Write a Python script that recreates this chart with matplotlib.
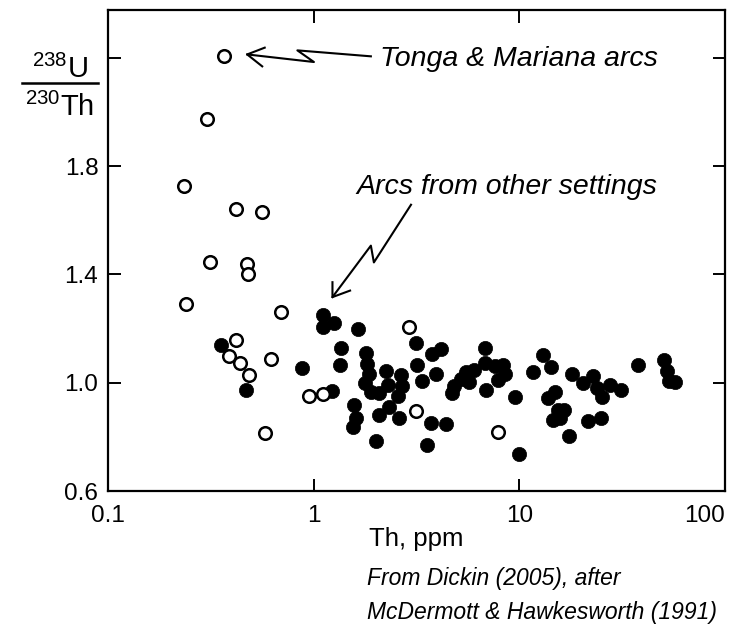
import matplotlib
matplotlib.use("Agg")
import matplotlib.pyplot as plt
from matplotlib.lines import Line2D

plt.rcParams['font.family'] = ['Liberation Sans', 'DejaVu Sans']
plt.rcParams['mathtext.fontset'] = 'custom'
plt.rcParams['mathtext.rm'] = 'Liberation Sans'
plt.rcParams['mathtext.it'] = 'Liberation Sans:italic'

# Tonga & Mariana arcs (open circles): Th ppm, 238U/230Th
open_th = [0.368, 0.303, 0.235, 0.421, 0.561, 0.312, 0.475, 0.477, 0.239, 0.696,
           0.421, 0.386, 0.440, 0.484, 0.622, 0.948, 1.115, 0.577, 2.917, 3.145, 7.855]
open_ratio = [2.208, 1.972, 1.726, 1.642, 1.631, 1.444, 1.438, 1.401, 1.290, 1.261,
              1.157, 1.099, 1.073, 1.030, 1.087, 0.949, 0.957, 0.814, 1.206, 0.894, 0.818]

# Arcs from other settings (filled circles)
fill_th = [0.355, 0.471, 0.874, 1.112, 1.252, 1.106, 1.224, 1.365, 1.344, 1.634,
           1.573, 1.603, 1.559, 1.794, 1.814, 1.855, 1.774, 1.897, 2.082, 2.245,
           2.288, 2.657, 2.687, 2.584, 2.330, 2.082, 2.607, 2.006, 3.155, 4.164,
           3.743, 3.162, 3.937, 3.364, 3.722, 4.405, 3.557, 6.826, 4.686, 4.820,
           5.214, 5.513, 6.034, 6.772, 7.578, 8.329, 8.545, 7.874, 6.902, 5.722,
           9.561, 9.945, 13.05, 14.25, 11.61, 17.94, 20.36, 22.88, 23.88, 25.34,
           27.57, 31.30, 14.87, 13.85, 15.45, 16.49, 14.60, 15.73, 21.63, 24.98,
           17.34, 37.93, 50.23, 52.14, 53.15, 57.23]
fill_ratio = [1.138, 0.973, 1.056, 1.250, 1.219, 1.206, 0.971, 1.128, 1.064, 1.197,
              0.918, 0.870, 0.835, 1.108, 1.068, 1.033, 0.997, 0.967, 0.961, 1.042,
              0.992, 1.028, 0.987, 0.949, 0.912, 0.879, 0.869, 0.784, 1.146, 1.126,
              1.105, 1.064, 1.031, 1.006, 0.851, 0.848, 0.771, 1.127, 0.961, 0.989,
              1.015, 1.039, 1.046, 1.071, 1.061, 1.065, 1.033, 1.010, 0.973, 1.004,
              0.947, 0.735, 1.103, 1.059, 1.039, 1.031, 1.000, 1.024, 0.981, 0.947,
              0.990, 0.973, 0.967, 0.943, 0.900, 0.900, 0.864, 0.869, 0.857, 0.869,
              0.804, 1.067, 1.082, 1.044, 1.007, 1.001]

y_ticks = [0.6, 1.0, 1.4, 1.8, 2.2]
y_labels = ['0.6', '1.0', '1.4', '1.8', '']
x_ticks = [0.1, 1, 10, 100]
x_labels = ['0.1', '1', '10', '100']

# arrow paths (data coords)
arrow1_x = [1.897, 0.833, 1.003, 0.475]
arrow1_y = [2.205, 2.227, 2.184, 2.212]
arrow1_head_x = [0.578, 0.475, 0.562]
arrow1_head_y = [2.237, 2.212, 2.168]
arrow2_x = [2.973, 1.962, 1.897, 1.234]
arrow2_y = [1.657, 1.444, 1.506, 1.316]
arrow2_head_x = [1.234, 1.234, 1.503]
arrow2_head_y = [1.371, 1.316, 1.340]

fig = plt.figure(figsize=(7.49, 6.38), dpi=100)
ax = fig.add_axes([0.1442, 0.2304, 0.8238, 0.7539])

ax.scatter(fill_th, fill_ratio, s=105, c='black', edgecolors='black', linewidths=0.5, zorder=3)
ax.scatter(open_th, open_ratio, s=82, facecolors='white', edgecolors='black', linewidths=1.8, zorder=4)

ax.set_xscale('log')
ax.set_xlim(0.1, 100)
ax.set_ylim(0.6, 2.376)
ax.set_xticks(x_ticks)
ax.set_xticklabels(x_labels)
ax.set_yticks(y_ticks)
ax.set_yticklabels(y_labels)
ax.minorticks_off()
ax.tick_params(direction='in', length=9, width=1.4, top=True, right=True,
               labelsize=17.5, pad=7)
ax.tick_params(axis='x', pad=10)
ax.get_xticklabels()[-1].set_horizontalalignment('right')
ax.get_xticklabels()[-1].set_x(100)
for sp in ax.spines.values():
    sp.set_linewidth(1.6)

ax.set_xlabel('Th, ppm', fontsize=18.5, labelpad=0)

# arrows and labels
ax.plot(arrow1_x, arrow1_y, color='black', lw=1.5, clip_on=False)
ax.plot(arrow1_head_x, arrow1_head_y, color='black', lw=1.5, clip_on=False)
ax.plot(arrow2_x, arrow2_y, color='black', lw=1.5, clip_on=False)
ax.plot(arrow2_head_x, arrow2_head_y, color='black', lw=1.5, clip_on=False)
ax.text(47.1, 2.196, 'Tonga & Mariana arcs', style='italic', fontsize=20.5,
        ha='right', va='center')
ax.text(47.1, 1.723, 'Arcs from other settings', style='italic', fontsize=20.5,
        ha='right', va='center')

# y label as a stacked fraction
fig.text(60 / 749, 1 - 78 / 638, r'$^{238}$U', fontsize=21, ha='center', va='baseline')
fig.text(60 / 749, 1 - 116 / 638, r'$^{230}$Th', fontsize=21, ha='center', va='baseline')
fig.add_artist(Line2D([22 / 749, 98 / 749], [1 - 83 / 638, 1 - 83 / 638],
                      transform=fig.transFigure, color='black', lw=1.8))

fig.text(367 / 749, 1 - 578 / 638, 'From Dickin (2005), after', style='italic',
         fontsize=16.5, ha='left', va='center')
fig.text(367 / 749, 1 - 612 / 638, 'McDermott & Hawkesworth (1991)', style='italic',
         fontsize=16.5, ha='left', va='center')

fig.savefig('out.png', dpi=100)
